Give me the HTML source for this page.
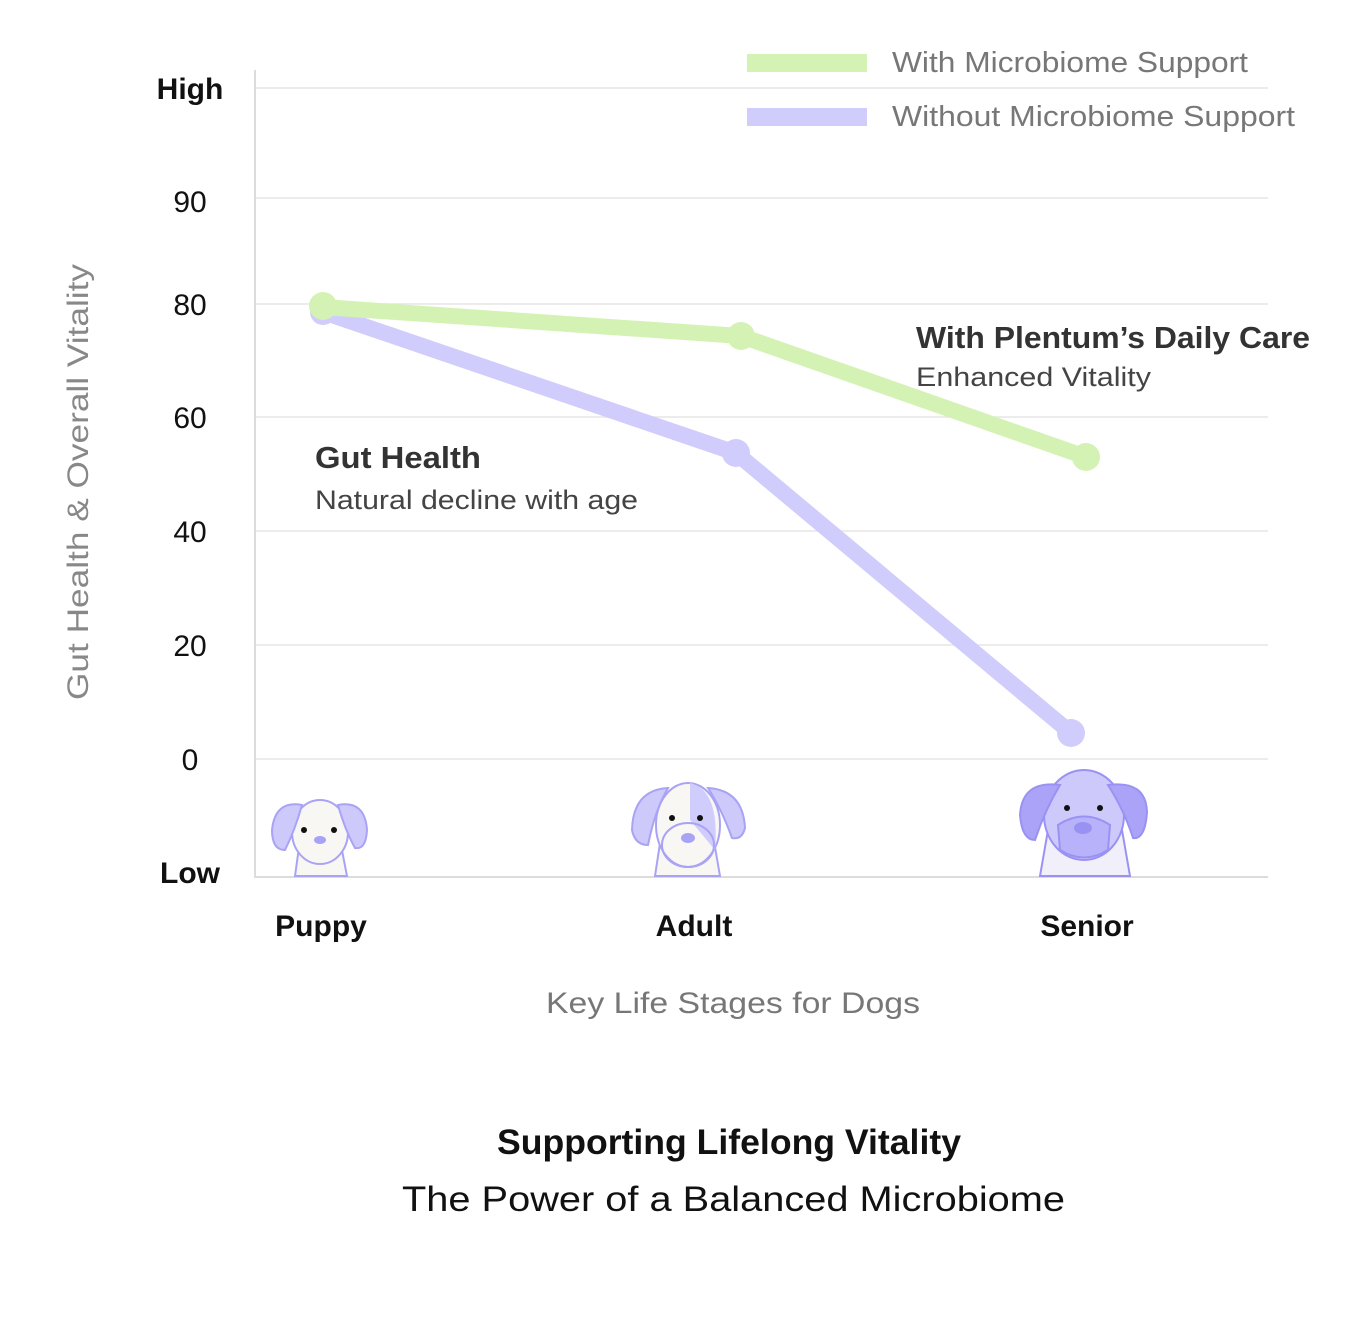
<!DOCTYPE html>
<html><head><meta charset="utf-8"><style>
body{margin:0;background:#fff;}
svg text{font-family:"Liberation Sans",sans-serif;}
</style></head><body>
<svg width="1348" height="1314" xmlns="http://www.w3.org/2000/svg">
<rect width="1348" height="1314" fill="#fff"/>
<g stroke="#e6e6e6" stroke-width="1.5">
<line x1="255" y1="88" x2="1268" y2="88"/><line x1="255" y1="198" x2="1268" y2="198"/>
<line x1="255" y1="304" x2="1268" y2="304"/><line x1="255" y1="417" x2="1268" y2="417"/>
<line x1="255" y1="531" x2="1268" y2="531"/><line x1="255" y1="645" x2="1268" y2="645"/>
<line x1="255" y1="759" x2="1268" y2="759"/>
</g>
<line x1="255" y1="70" x2="255" y2="878" stroke="#dcdcdc" stroke-width="2"/>
<line x1="255" y1="877" x2="1268" y2="877" stroke="#dcdcdc" stroke-width="2"/>
<g font-size="30" text-anchor="middle" fill="#111">
<text x="190" y="99" font-weight="bold">High</text>
<text x="190" y="212">90</text><text x="190" y="315">80</text><text x="190" y="428">60</text>
<text x="190" y="542">40</text><text x="190" y="656">20</text><text x="190" y="770">0</text>
<text x="190" y="883" font-weight="bold">Low</text>
<text x="321" y="936" font-weight="bold">Puppy</text>
<text x="694" y="936" font-weight="bold">Adult</text>
<text x="1087" y="936" font-weight="bold">Senior</text>
</g>
<text transform="translate(88,482) rotate(-90)" font-size="30" fill="#888" text-anchor="middle" textLength="436" lengthAdjust="spacingAndGlyphs">Gut Health &amp; Overall Vitality</text>
<text x="546" y="1013" font-size="30" fill="#777" textLength="374" lengthAdjust="spacingAndGlyphs">Key Life Stages for Dogs</text>
<polyline points="323,312 736,453 1071,733" fill="none" stroke="#d0cdfc" stroke-width="16" stroke-linejoin="round"/>
<g fill="#d0cdfc"><circle cx="323" cy="312" r="13"/><circle cx="736" cy="453" r="14"/><circle cx="1071" cy="733" r="14"/></g>
<polyline points="323,307 741,336 1086,457" fill="none" stroke="#d5f2b5" stroke-width="16" stroke-linejoin="round"/>
<g fill="#d5f2b5"><circle cx="323" cy="306" r="14"/><circle cx="741" cy="336" r="14"/><circle cx="1086" cy="457" r="14"/></g>
<rect x="747" y="54" width="120" height="18" fill="#d5f2b5"/>
<rect x="747" y="108" width="120" height="18" fill="#d0cdfc"/>
<text x="892" y="72" font-size="29" fill="#777" textLength="356" lengthAdjust="spacingAndGlyphs">With Microbiome Support</text>
<text x="892" y="126" font-size="29" fill="#777" textLength="403" lengthAdjust="spacingAndGlyphs">Without Microbiome Support</text>
<text x="916" y="348" font-size="31" font-weight="bold" fill="#333" textLength="394" lengthAdjust="spacingAndGlyphs">With Plentum’s Daily Care</text>
<text x="916" y="386" font-size="27" fill="#444" textLength="235" lengthAdjust="spacingAndGlyphs">Enhanced Vitality</text>
<text x="315" y="468" font-size="31" font-weight="bold" fill="#333" textLength="166" lengthAdjust="spacingAndGlyphs">Gut Health</text>
<text x="315" y="509" font-size="27" fill="#444" textLength="323" lengthAdjust="spacingAndGlyphs">Natural decline with age</text>
<text x="497" y="1154" font-size="35" font-weight="bold" fill="#111" textLength="464" lengthAdjust="spacingAndGlyphs">Supporting Lifelong Vitality</text>
<text x="402" y="1211" font-size="35" fill="#111" textLength="663" lengthAdjust="spacingAndGlyphs">The Power of a Balanced Microbiome</text>
<!-- puppy -->
<g stroke="#a9a3f5" stroke-width="2">
<path d="M295 876 L300 840 L340 840 L347 876 Z" fill="#f8f7f4"/>
<ellipse cx="320" cy="832" rx="28" ry="32" fill="#f8f7f4"/>
<path d="M302 805 Q275 800 272 830 Q272 850 285 850 Q295 830 302 805Z" fill="#cdc9fb"/>
<path d="M338 805 Q365 800 367 830 Q366 850 355 848 Q345 830 338 805Z" fill="#cdc9fb"/>
</g>
<circle cx="304" cy="830" r="3" fill="#111"/><circle cx="334" cy="830" r="3" fill="#111"/>
<ellipse cx="320" cy="840" rx="6" ry="4" fill="#a9a3f5"/>
<!-- adult -->
<g stroke="#a9a3f5" stroke-width="2">
<path d="M655 876 L662 830 L712 830 L720 876 Z" fill="#f8f7f4"/>
<ellipse cx="688" cy="825" rx="32" ry="42" fill="#f8f7f4"/>
<path d="M690 783 Q720 790 715 850 L690 820Z" fill="#d0cdfc" stroke="none"/>
<path d="M668 788 Q633 790 632 830 Q635 845 648 845 Q655 810 668 788Z" fill="#cdc9fb"/>
<path d="M708 788 Q743 790 745 828 Q742 840 732 838 Q722 810 708 788Z" fill="#cdc9fb"/>
<ellipse cx="688" cy="845" rx="26" ry="22" fill="none"/>
</g>
<circle cx="672" cy="818" r="3" fill="#111"/><circle cx="700" cy="818" r="3" fill="#111"/>
<ellipse cx="688" cy="838" rx="7" ry="5" fill="#a9a3f5"/>
<!-- senior -->
<g stroke="#9a92f3" stroke-width="2">
<path d="M1040 876 L1048 830 L1122 830 L1130 876 Z" fill="#f0effa"/>
<ellipse cx="1084" cy="815" rx="40" ry="45" fill="#cdc9fb"/>
<path d="M1060 785 Q1022 780 1020 815 Q1022 840 1035 840 Q1045 810 1060 785Z" fill="#aaa3f7"/>
<path d="M1108 785 Q1146 780 1147 812 Q1145 840 1133 838 Q1124 810 1108 785Z" fill="#aaa3f7"/>
<path d="M1058 825 Q1084 808 1110 825 L1108 850 Q1084 865 1060 850Z" fill="#b8b2fa"/>
</g>
<circle cx="1067" cy="808" r="3" fill="#111"/><circle cx="1100" cy="808" r="3" fill="#111"/>
<ellipse cx="1083" cy="828" rx="9" ry="6" fill="#9a92f3"/>
</svg>
</body></html>
